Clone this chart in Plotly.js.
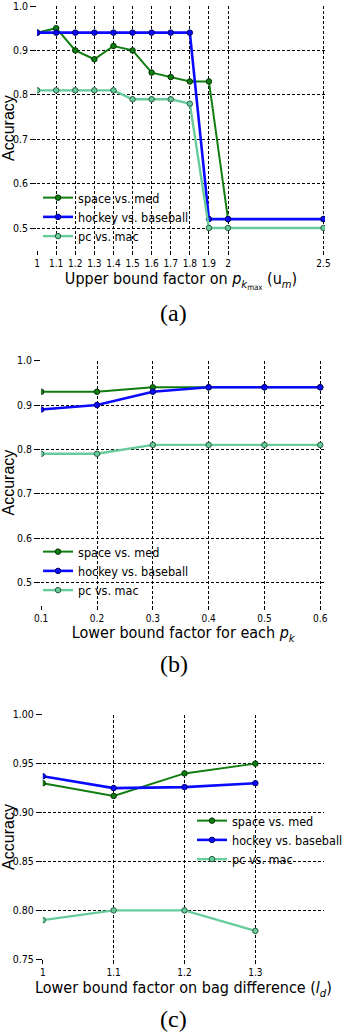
<!DOCTYPE html>
<html>
<head>
<meta charset="utf-8">
<script src="https://cdn.plot.ly/plotly-3.0.1.min.js"></script>
<style>html,body{margin:0;padding:0;background:#fff;}#chart{width:348px;height:1034px;}</style>
</head>
<body>
<div id="chart"></div>
<script>
// ---- data ----
const seriesNames = ["space vs. med", "hockey vs. baseball", "pc vs. mac"];

// (a) Upper bound factor
const xA = [1, 1.1, 1.2, 1.3, 1.4, 1.5, 1.6, 1.7, 1.8, 1.9, 2, 2.5];
const xALabels = ["1", "1.1", "1.2", "1.3", "1.4", "1.5", "1.6", "1.7", "1.8", "1.9", "2", "2.5"];
const spaceA = [0.94, 0.95, 0.90, 0.88, 0.91, 0.90, 0.85, 0.84, 0.83, 0.83, 0.52, 0.52];
const hockeyA = [0.94, 0.94, 0.94, 0.94, 0.94, 0.94, 0.94, 0.94, 0.94, 0.52, 0.52, 0.52];
const pcA = [0.81, 0.81, 0.81, 0.81, 0.81, 0.79, 0.79, 0.79, 0.78, 0.50, 0.50, 0.50];

// (b) Lower bound factor for each p_k
const xB = [0.1, 0.2, 0.3, 0.4, 0.5, 0.6];
const xBLabels = ["0.1", "0.2", "0.3", "0.4", "0.5", "0.6"];
const spaceB = [0.93, 0.93, 0.94, 0.94, 0.94, 0.94];
const hockeyB = [0.89, 0.90, 0.93, 0.94, 0.94, 0.94];
const pcB = [0.79, 0.79, 0.81, 0.81, 0.81, 0.81];

// (c) Lower bound factor on bag difference
const xC = [1, 1.1, 1.2, 1.3];
const xCLabels = ["1", "1.1", "1.2", "1.3"];
const spaceC = [0.93, 0.917, 0.94, 0.95];
const hockeyC = [0.937, 0.925, 0.926, 0.93];
const pcC = [0.79, 0.80, 0.80, 0.779];

const yABTicks = [0.5, 0.6, 0.7, 0.8, 0.9, 1.0];
const yCTicks = [0.75, 0.80, 0.85, 0.90, 0.95, 1.00];

// ---- styles ----
const colors = ["#0f7d0f", "#0a0aff", "#66cc99"];
const edges = ["#003300", "#000066", "#2a5e44"];
const widths = [2, 2.6, 2.4];
const narrow = "Liberation Sans Narrow, DejaVu Sans Condensed, Liberation Sans, Arial, sans-serif";
const regular = "Liberation Sans, Arial, sans-serif";

function mk(x, ys, xa, ya, leg) {
  return ys.map((y, i) => ({
    type: "scatter", mode: "lines+markers", x: x, y: y,
    name: seriesNames[i], xaxis: xa, yaxis: ya, legend: leg,
    line: {color: colors[i], width: widths[i]},
    marker: {symbol: "circle", size: 5.5, color: colors[i], line: {color: edges[i], width: 1}}
  }));
}

const traces = []
  .concat(mk(xA, [spaceA, hockeyA, pcA], "x", "y", "legend"))
  .concat(mk(xB, [spaceB, hockeyB, pcB], "x2", "y2", "legend2"))
  .concat(mk(xC, [spaceC, hockeyC, pcC], "x3", "y3", "legend3"));

const H = 1034, W = 348;
function px(v) { return v / W; }
function py(v) { return 1 - v / H; }

function xaxis(dom, range, vals, text, title, anchor) {
  return {
    domain: dom, range: range, anchor: anchor,
    tickmode: "array", tickvals: vals, ticktext: text,
    showgrid: true, gridcolor: "#000", gridwidth: 1, griddash: "3px,2px",
    zeroline: false, showline: false, ticks: "outside", ticklen: 4, tickcolor: "#000",
    tickfont: {family: narrow, size: 10, color: "#000"},
    ticklabeloverflow: "allow",
    title: {text: title, font: {family: narrow, size: 16, color: "#000"}, standoff: 0},
    automargin: false, fixedrange: true
  };
}
function yaxis(dom, range, vals, fmt, anchor) {
  return {
    domain: dom, range: range, anchor: anchor,
    tickmode: "array", tickvals: vals, ticktext: vals.map(v => v.toFixed(fmt)),
    showgrid: true, gridcolor: "#000", gridwidth: 1, griddash: "3px,2px",
    zeroline: false, showline: false, ticks: "outside", ticklen: 6, tickcolor: "#000",
    tickfont: {family: narrow, size: 10.5, color: "#000"},
    ticklabeloverflow: "allow",
    title: {text: "Accuracy", font: {family: regular, size: 16, color: "#000"}, standoff: 6},
    automargin: false, fixedrange: true
  };
}

function legend(x, yTop) {
  return {
    x: px(x), y: py(yTop), xanchor: "left", yanchor: "top",
    bgcolor: "rgba(0,0,0,0)", borderwidth: 0,
    font: {family: narrow, size: 12.5, color: "#000"},
    tracegroupgap: 0, itemwidth: 30
  };
}

const capFont = {family: "Liberation Serif, DejaVu Serif, serif", size: 24, color: "#000"};

const layout = {
  width: W, height: H,
  margin: {l: 0, r: 0, t: 0, b: 0},
  paper_bgcolor: "#fff", plot_bgcolor: "#fff",
  showlegend: true,
  xaxis: xaxis([px(39), px(341.7)], [1, 2.508], xA, xALabels,
    "Upper bound factor on <i>p</i><sub><i>k</i><sub>max</sub></sub> (u<sub><i>m</i></sub>)", "y"),
  yaxis: yaxis([py(250.2), py(6)], [0.45, 1.0], yABTicks, 1, "x"),
  xaxis2: xaxis([px(43.3), px(342)], [0.1, 0.609], xB, xBLabels,
    "Lower bound factor for each <i>p<sub>k</sub></i>", "y2"),
  yaxis2: yaxis([py(604.5), py(360.7)], [0.45, 1.0], yABTicks, 1, "x2"),
  xaxis3: xaxis([px(45), px(340.7)], [1, 1.397], xC, xCLabels,
    "Lower bound factor on bag difference (<i>l<sub>d</sub></i>)", "y3"),
  yaxis3: yaxis([py(959.3), py(714.7)], [0.75, 1.0], yCTicks, 2, "x3"),
  legend: legend(40, 183),
  legend2: legend(40, 537),
  legend3: legend(202, 806),
  annotations: [
    {text: "(a)", x: px(182), y: py(313), xref: "paper", yref: "paper", xanchor: "center", yanchor: "middle", showarrow: false, font: capFont},
    {text: "(b)", x: px(183), y: py(664), xref: "paper", yref: "paper", xanchor: "center", yanchor: "middle", showarrow: false, font: capFont},
    {text: "(c)", x: px(182), y: py(1019), xref: "paper", yref: "paper", xanchor: "center", yanchor: "middle", showarrow: false, font: capFont}
  ]
};

Plotly.newPlot("chart", traces, layout, {displayModeBar: false, staticPlot: true});
</script>
</body>
</html>
